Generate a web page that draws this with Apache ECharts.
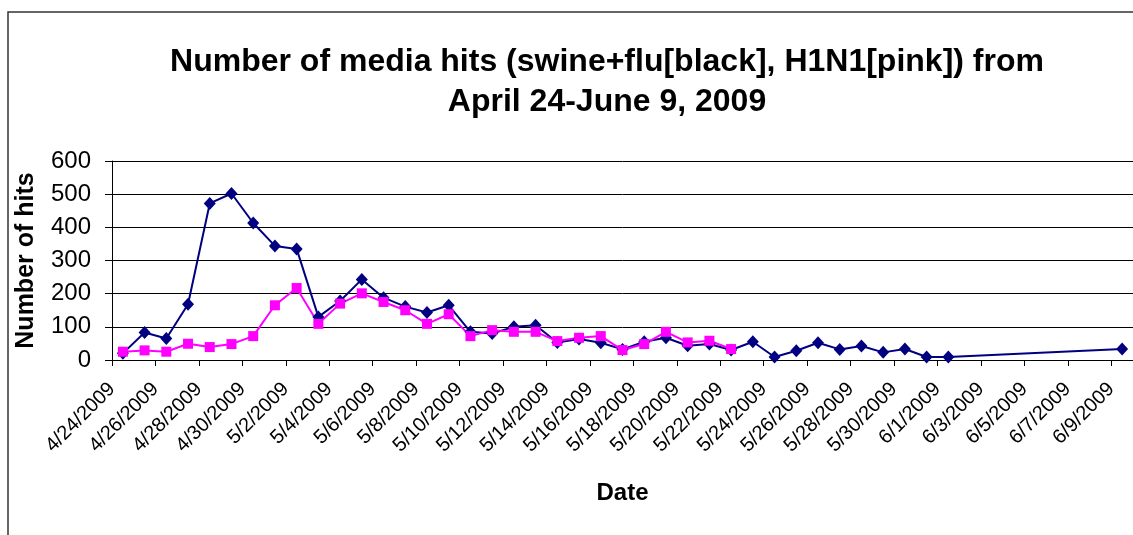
<!DOCTYPE html>
<html>
<head>
<meta charset="utf-8">
<script src="https://cdn.jsdelivr.net/npm/echarts@6/dist/echarts.min.js"></script>
<style>
html, body {margin: 0; padding: 0; background: #fff;}
#mediaChart {width: 1133px; height: 535px;}
</style>
</head>
<body>
<div id="mediaChart"></div>
<script>
// one entry per day, 4/24/2009 .. 6/9/2009
var dates = [
    '4/24/2009', '4/25/2009', '4/26/2009', '4/27/2009', '4/28/2009', '4/29/2009', '4/30/2009',
    '5/1/2009', '5/2/2009', '5/3/2009', '5/4/2009', '5/5/2009', '5/6/2009', '5/7/2009',
    '5/8/2009', '5/9/2009', '5/10/2009', '5/11/2009', '5/12/2009', '5/13/2009', '5/14/2009',
    '5/15/2009', '5/16/2009', '5/17/2009', '5/18/2009', '5/19/2009', '5/20/2009', '5/21/2009',
    '5/22/2009', '5/23/2009', '5/24/2009', '5/25/2009', '5/26/2009', '5/27/2009', '5/28/2009',
    '5/29/2009', '5/30/2009', '5/31/2009', '6/1/2009', '6/2/2009', '6/3/2009', '6/4/2009',
    '6/5/2009', '6/6/2009', '6/7/2009', '6/8/2009', '6/9/2009'
];
// swine+flu (black)
var swineFlu = [
    20, 83, 65, 168, 472, 502, 413,
    344, 335, 130, 178, 243, 188, 161,
    143, 165, 85, 80, 100, 105, 53,
    63, 52, 32, 55, 67, 43, 48,
    30, 55, 9, 28, 52, 32, 42,
    23, 33, 9, 9, null, null, null,
    null, null, null, null, 33
];
// H1N1 (pink)
var h1n1 = [
    25, 29, 25, 49, 39, 48, 72,
    165, 217, 109, 170, 201, 175, 150,
    109, 138, 72, 90, 85, 85, 57,
    67, 72, 30, 48, 85, 53, 58,
    33, null, null, null, null, null, null,
    null, null, null, null, null, null, null,
    null, null, null, null, null
];
var yTicks = [0, 100, 200, 300, 400, 500, 600];

var fontFam = 'Liberation Sans, Arial, sans-serif';

// points sit in the middle of each day's slot, like the excel date axis
function toPoints(vals) {
    var pts = [];
    vals.forEach(function(v, i) {
        if (v !== null) pts.push([i + 0.5, v]);
    });
    return pts;
}

var mediaChart = echarts.init(document.getElementById('mediaChart'));
var option = {
    animation: false,
    title: {
        text: 'Number of media hits (swine+flu[black], H1N1[pink]) from\nApril 24-June 9, 2009',
        left: 602,
        top: 37,
        textAlign: 'center',
        textStyle: {
            fontFamily: fontFam,
            fontSize: 32,
            fontWeight: 'bold',
            lineHeight: 40,
            color: '#000'
        }
    },
    graphic: [{
        type: 'rect',
        shape: {x: 8, y: 12, width: 1400, height: 800},
        style: {fill: 'none', stroke: '#333', lineWidth: 1.5},
        silent: true
    }],
    grid: {
        left: 112,
        top: 161,
        right: -7,
        bottom: 175
    },
    xAxis: {
        type: 'value',
        min: 0,
        max: dates.length,
        interval: 2,
        name: 'Date',
        nameLocation: 'middle',
        nameGap: 121,
        nameTextStyle: {
            fontFamily: fontFam,
            fontSize: 24,
            fontWeight: 'bold',
            color: '#000'
        },
        axisLine: {onZero: false, lineStyle: {color: '#000', width: 1}},
        axisTick: {show: true, length: 6, lineStyle: {color: '#000'}},
        splitLine: {show: false},
        axisLabel: {
            rotate: 45,
            margin: 26,
            fontFamily: fontFam,
            fontSize: 20,
            color: '#000',
            showMaxLabel: false,
            formatter: function(v) {
                return v < dates.length ? dates[v] : '';
            }
        }
    },
    yAxis: {
        type: 'value',
        min: yTicks[0],
        max: yTicks[yTicks.length - 1],
        interval: 100,
        name: 'Number of hits',
        nameLocation: 'middle',
        nameRotate: 90,
        nameGap: 73,
        nameTextStyle: {
            fontFamily: fontFam,
            fontSize: 25,
            fontWeight: 'bold',
            color: '#000'
        },
        axisLine: {show: true, lineStyle: {color: '#000', width: 1}},
        axisTick: {show: true, length: 7, lineStyle: {color: '#000'}},
        splitLine: {show: true, lineStyle: {color: '#000', width: 1}},
        axisLabel: {
            margin: 21,
            fontFamily: fontFam,
            fontSize: 24,
            color: '#000'
        }
    },
    series: [{
        name: 'swine+flu',
        type: 'line',
        data: toPoints(swineFlu),
        symbol: 'diamond',
        symbolSize: [12, 13],
        lineStyle: {color: '#000080', width: 2},
        itemStyle: {color: '#000080'}
    }, {
        name: 'H1N1',
        type: 'line',
        data: toPoints(h1n1),
        symbol: 'rect',
        symbolSize: 10,
        lineStyle: {color: '#ff00ff', width: 2},
        itemStyle: {color: '#ff00ff'}
    }]
};

mediaChart.setOption(option);
</script>
</body>
</html>
